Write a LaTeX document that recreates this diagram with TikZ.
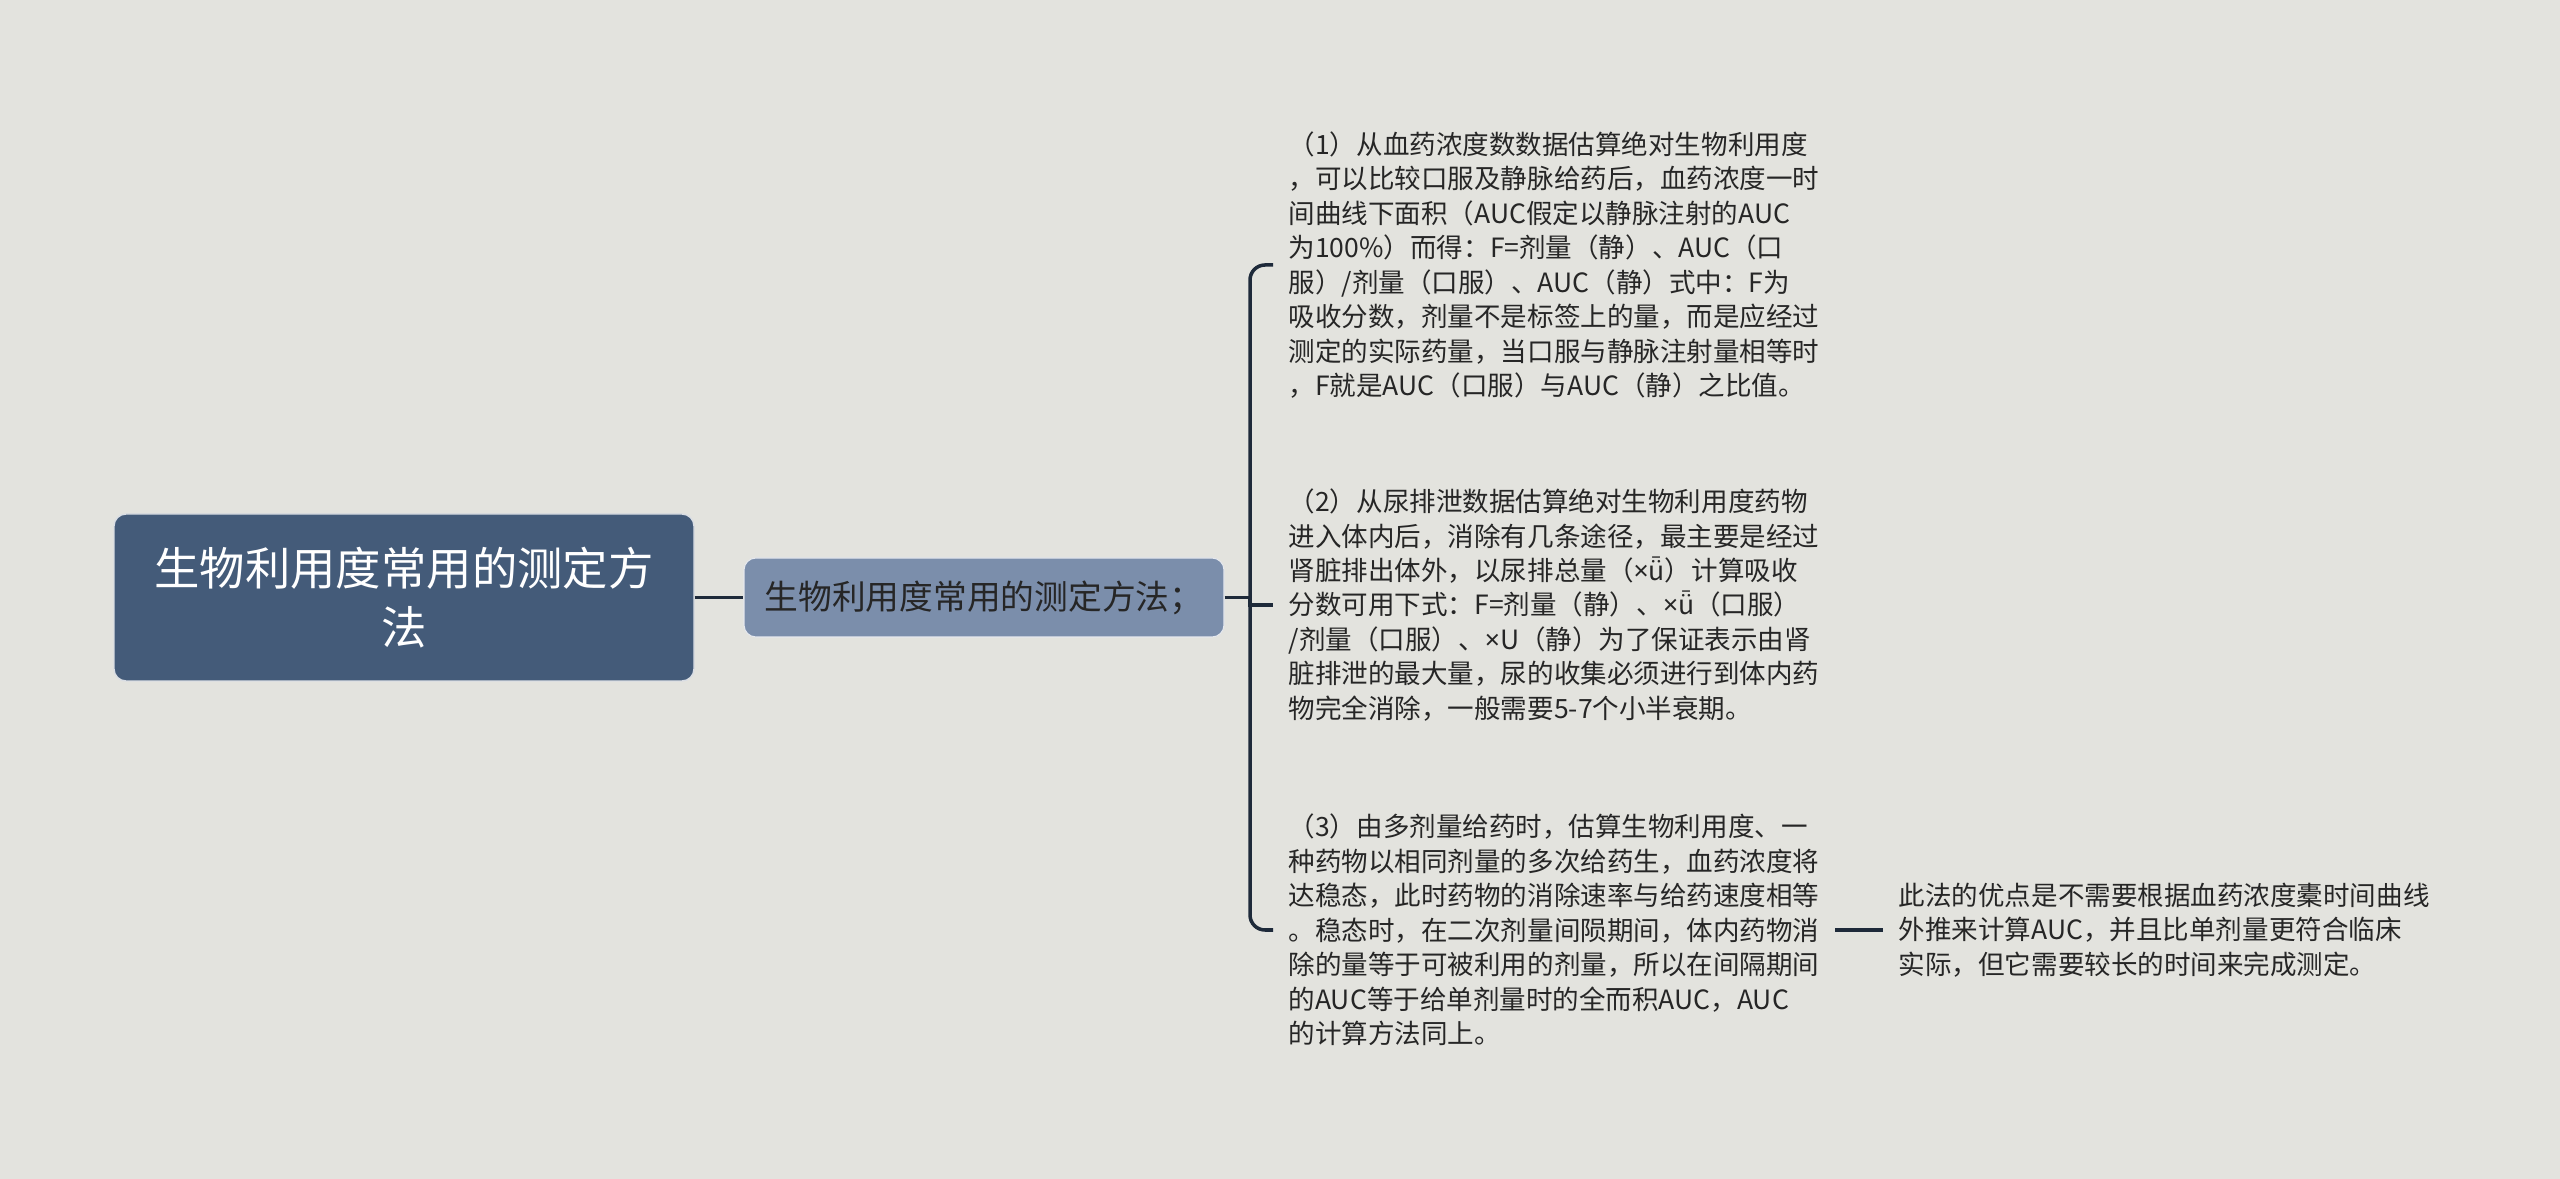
\documentclass[tikz,border=0pt]{standalone}
\usepackage{fontspec}
\setmainfont{Noto Sans CJK SC}
\newfontfamily\latfont{Noto Sans}
\usetikzlibrary{positioning}
\definecolor{bgcol}{HTML}{E3E3DE}
\definecolor{rootcol}{HTML}{445B79}
\definecolor{subcol}{HTML}{7B8EAB}
\definecolor{linkcol}{HTML}{1E2A3A}
\definecolor{txtcol}{HTML}{262626}
\newcommand{\tms}{{\latfont ×}}

\begin{document}
\begin{tikzpicture}[
	rootbox/.style={fill=rootcol, draw=white!80!rootcol, line width=0.4pt, rounded corners=0.12cm,
		text=white, minimum width=5.8cm, minimum height=1.67cm, align=center,
		font=\fontsize{12.9pt}{16.8pt}\selectfont},
	subbox/.style={fill=subcol, draw=white!80!subcol, line width=0.3pt, rounded corners=0.12cm,
		text=txtcol, minimum width=4.8cm, minimum height=0.79cm,
		font=\fontsize{9.6pt}{11pt}\selectfont},
	leaf/.style={anchor=west, align=left, inner xsep=0.15cm, inner ysep=0pt, text=txtcol,
		font=\fontsize{7.55pt}{9.8pt}\selectfont},
	link/.style={draw=linkcol, line width=1pt},
	]
		\fill [bgcol] (0,0) rectangle (25.6,-11.79);
		\useasboundingbox (0,0) rectangle (25.6,-11.79);
		\node [rootbox] (root) at (4.04,-5.975) {生物利用度常用的测定方\\法};
		\node [subbox] (way) at (9.84,-5.975) {生物利用度常用的测定方法；};
		\coordinate (fork) at (12.5,-5.975);
		\node [leaf] (blood) at (12.73,-2.65) {（1）从血药浓度数数据估算绝对生物利用度\\，可以比较口服及静脉给药后，血药浓度一时\\间曲线下面积（AUC假定以静脉注射的AUC\\为100\%）而得：F=剂量（静）、AUC（口\\服）/剂量（口服）、AUC（静）式中：F为\\吸收分数，剂量不是标签上的量，而是应经过\\测定的实际药量，当口服与静脉注射量相等时\\，F就是AUC（口服）与AUC（静）之比值。};
		\node [leaf] (urine) at (12.73,-6.05) {（2）从尿排泄数据估算绝对生物利用度药物\\进入体内后，消除有几条途径，最主要是经过\\肾脏排出体外，以尿排总量（\tms ǖ）计算吸收\\分数可用下式：F=剂量（静）、\tms ǖ（口服）\\/剂量（口服）、\tms U（静）为了保证表示由肾\\脏排泄的最大量，尿的收集必须进行到体内药\\物完全消除，一般需要5-7个小半衰期。};
		\node [leaf] (multi) at (12.73,-9.3) {（3）由多剂量给药时，估算生物利用度、一\\种药物以相同剂量的多次给药生，血药浓度将\\达稳态，此时药物的消除速率与给药速度相等\\。稳态时，在二次剂量间陨期间，体内药物消\\除的量等于可被利用的剂量，所以在间隔期间\\的AUC等于给单剂量时的全而积AUC，AUC\\的计算方法同上。};
		\node [leaf, right=0.48cm of multi] (merit) {此法的优点是不需要根据血药浓度橐时间曲线\\外推来计算AUC，并且比单剂量更符合临床\\实际，但它需要较长的时间来完成测定。};
		\draw [link] (root.east) -- (way.west);
		\draw [link] (way.east) -- (fork);
		\draw [link, rounded corners=0.15cm] (fork) |- (blood.west);
		\draw [link] (fork) -- (fork |- urine.west) -- (urine.west);
		\draw [link, rounded corners=0.15cm] (fork) |- (multi.west);
		\draw [link] (multi.east) -- (merit.west);
\end{tikzpicture}
\end{document}
